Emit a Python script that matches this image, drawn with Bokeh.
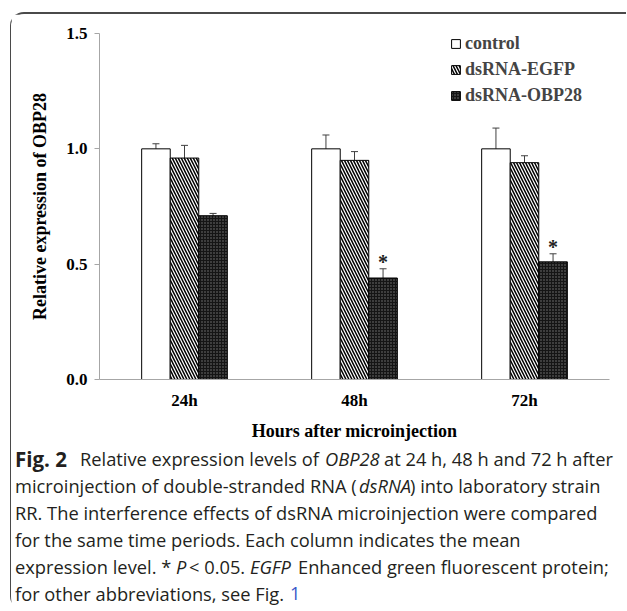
from bokeh.plotting import figure
from bokeh.layouts import column
from bokeh.models import (ColumnDataSource, Whisker, TeeHead, FixedTicker, Legend,
                          LegendItem, NumeralTickFormatter, Range1d)
from bokeh.transform import dodge
from bokeh.core.properties import value
from bokeh.embed import file_html
from bokeh.resources import INLINE

# ---------------- data ----------------
times = ["24h", "48h", "72h"]
series_names = ["control", "dsRNA-EGFP", "dsRNA-OBP28"]
control = [1.00, 1.00, 1.00]
control_err = [0.022, 0.06, 0.09]
egfp = [0.96, 0.95, 0.94]
egfp_err = [0.055, 0.038, 0.03]
obp28 = [0.71, 0.44, 0.51]
obp28_err = [0.01, 0.04, 0.035]
signif = ["", "*", "*"]
y_ticks = [0.0, 0.5, 1.0, 1.5]
y_label = "Relative expression of OBP28"
x_label = "Hours after microinjection"

TXT = "#231f20"
LINK = "#3a57c9"
caption_lines = [
    [("Fig. 2", "bold", TXT), ("Relative expression levels of", "normal", TXT),
     ("OBP28", "italic", TXT), ("at 24 h, 48 h and 72 h after", "normal", TXT)],
    [("microinjection of double-stranded RNA (", "normal", TXT), ("dsRNA", "italic", TXT),
     (") into laboratory strain", "normal", TXT)],
    [("RR. The interference effects of dsRNA microinjection were compared", "normal", TXT)],
    [("for the same time periods. Each column indicates the mean", "normal", TXT)],
    [("expression level. *", "normal", TXT), ("P", "italic", TXT),
     ("< 0.05.", "normal", TXT), ("EGFP", "italic", TXT),
     ("Enhanced green fluorescent protein;", "normal", TXT)],
    [("for other abbreviations, see Fig.", "normal", TXT), ("1", "normal", LINK)],
]
# layout: x start (page px) of each caption segment, and line centre (page px)
caption_x = [[15, 80, 325, 384], [15, 359, 410], [15], [15], [15, 176, 189, 250, 298], [15, 290]]
caption_y = [458, 485, 512, 539, 566, 593]

# ---------------- layout constants ----------------
PAGE_X0, PAGE_Y0 = 11.5, 14      # canvas origin on the page (after margin + border)
W = 615
H1 = 430
H2 = 166
SERIF = "Liberation Serif"
CAP_FONT = "Open Sans"
CAP_SIZE = "18.3px"
CAP_BOLD_SIZE = "20.5px"

# ---------------- chart ----------------
p = figure(width=W, height=H1, x_range=times, y_range=(0, 1.5),
           output_backend="svg", toolbar_location=None,
           min_border_left=88, min_border_right=17, min_border_top=19, min_border_bottom=65)
p.frame_align = False
p.xgrid.visible = False
p.ygrid.visible = False
p.outline_line_color = None

src = ColumnDataSource(dict(
    t=times, control=control, egfp=egfp, obp28=obp28,
    c_hi=[v + e for v, e in zip(control, control_err)], c_lo=[v - e for v, e in zip(control, control_err)],
    e_hi=[v + e for v, e in zip(egfp, egfp_err)], e_lo=[v - e for v, e in zip(egfp, egfp_err)],
    o_hi=[v + e for v, e in zip(obp28, obp28_err)], o_lo=[v - e for v, e in zip(obp28, obp28_err)],
    sig=signif,
))

bw = 0.168
r1 = p.vbar(x=dodge("t", -bw, range=p.x_range), top="control", width=bw, source=src,
            fill_color="white", line_color="black", line_width=1)
r2 = p.vbar(x=dodge("t", 0, range=p.x_range), top="egfp", width=bw, source=src,
            fill_color="white", line_color="black", line_width=1,
            hatch_pattern="\\", hatch_color="black", hatch_scale=6, hatch_weight=1.5)
r3 = p.vbar(x=dodge("t", bw, range=p.x_range), top="obp28", width=bw, source=src,
            fill_color="#151515", line_color="black", line_width=1,
            hatch_pattern=".", hatch_color="#7a7a7a", hatch_scale=3, hatch_weight=1)

for off, hi, lo in [(-bw, "c_hi", "c_lo"), (0, "e_hi", "e_lo"), (bw, "o_hi", "o_lo")]:
    wk = Whisker(base=dodge("t", off, range=p.x_range), upper=hi, lower=lo, source=src,
                 line_color="#404040", line_width=1,
                 upper_head=TeeHead(size=7, line_color="#404040", line_width=1),
                 lower_head=TeeHead(size=7, line_color="#404040", line_width=1))
    p.add_layout(wk)

p.text(x=dodge("t", bw, range=p.x_range), y="o_hi", text="sig", source=src,
       text_font=value(SERIF), text_font_style="bold", text_font_size="20px",
       text_align="center", text_baseline="middle", y_offset=-7, text_color="#222222")

for ax in (p.xaxis[0], p.yaxis[0]):
    ax.axis_line_color = "#a6a6a6"
    ax.axis_line_width = 1
    ax.major_label_text_font = SERIF
    ax.major_label_text_font_style = "bold"
    ax.major_label_text_font_size = "17px"
    ax.major_label_text_color = "black"
    ax.axis_label_text_font = SERIF
    ax.axis_label_text_font_style = "bold"
    ax.axis_label_text_font_size = "18px"
    ax.axis_label_text_color = "black"
    ax.minor_tick_line_color = None

p.yaxis.ticker = FixedTicker(ticks=y_ticks)
p.yaxis.formatter = NumeralTickFormatter(format="0.0")
p.yaxis.major_tick_line_color = "#a6a6a6"
p.yaxis.major_tick_out = 5
p.yaxis.major_tick_in = 0
p.yaxis.major_label_standoff = 7
p.yaxis.axis_label = y_label
p.yaxis.axis_label_standoff = 13

p.xaxis.major_tick_line_color = None
p.xaxis.major_tick_out = 0
p.xaxis.major_label_standoff = 11
p.xaxis.axis_label = x_label
p.xaxis.axis_label_standoff = 8

legend = Legend(items=[LegendItem(label=n, renderers=[r]) for n, r in zip(series_names, [r1, r2, r3])],
                location=(351, 273), glyph_width=11, glyph_height=11, label_height=20,
                label_text_font=SERIF, label_text_font_style="bold", label_text_font_size="18px",
                spacing=5, padding=0, margin=0, label_standoff=4,
                border_line_color=None, background_fill_alpha=0)
p.add_layout(legend)

# ---------------- caption ----------------
cap = figure(width=W, height=H2, x_range=Range1d(0, W), y_range=Range1d(H2, 0),
             output_backend="svg", toolbar_location=None,
             x_axis_location=None, y_axis_location=None,
             min_border=0, min_border_left=0, min_border_right=0,
             min_border_top=0, min_border_bottom=0)
cap.frame_align = False
cap.xgrid.visible = False
cap.ygrid.visible = False
cap.outline_line_color = None

groups = {}
for segs, xs, yc in zip(caption_lines, caption_x, caption_y):
    for (txt, style, col), xp in zip(segs, xs):
        size = CAP_BOLD_SIZE if style == "bold" else CAP_SIZE
        d = groups.setdefault((style, col, size), dict(x=[], y=[], text=[]))
        d["x"].append(xp - PAGE_X0)
        d["y"].append(yc - PAGE_Y0 - H1)
        d["text"].append(txt)
for (style, col, size), d in groups.items():
    cap.text(x="x", y="y", text="text", source=ColumnDataSource(d),
             text_font=value(CAP_FONT), text_font_size=size,
             text_font_style=style, text_color=col,
             text_baseline="middle", text_align="left")

layout = column(p, cap, spacing=0)
layout.styles = {"margin-left": "10px", "margin-top": "12px",
                 "border-top": "2px solid #4a4a4a", "border-left": "1.5px solid #4a4a4a",
                 "border-top-left-radius": "14px", "border-bottom-left-radius": "14px"}

open("out.html", "w").write(file_html(layout, INLINE))
